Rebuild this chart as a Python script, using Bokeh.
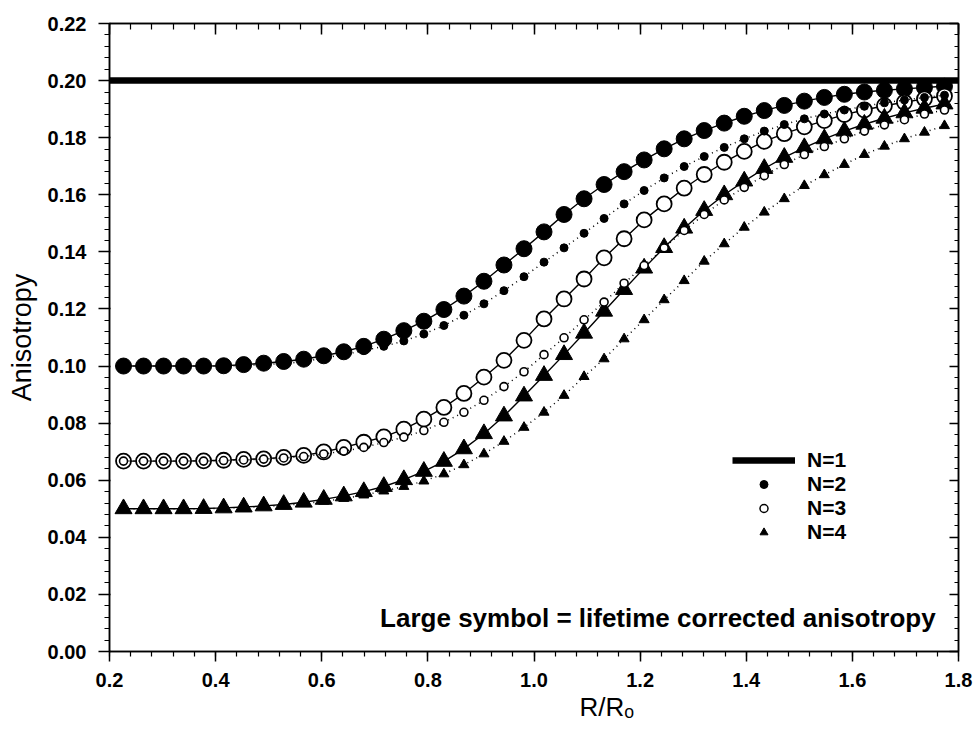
import math

from bokeh.embed import file_html
from bokeh.models import (ColumnDataSource, CustomLabelingPolicy, FixedTicker, Label, Legend,
                          LegendItem, LinearAxis, PrintfTickFormatter, Range1d, Title)
from bokeh.plotting import figure
from bokeh.resources import INLINE

# ---- data -----------------------------------------------------------------
# donor-donor distances (Angstrom) and the Forster distance used to scale them
distances_A = [12, 14, 16, 18, 20, 22, 24, 26, 28, 30, 32, 34, 36, 38,
               40, 42, 44, 46, 48, 50, 52, 54, 56, 58, 60, 62, 64, 66,
               68, 70, 72, 74, 76, 78, 80, 82, 84, 86, 88, 90, 92, 94]
R0_A = 53.0
r_over_r0 = [d / R0_A for d in distances_A]

# N=1: monomer, no homo-transfer
n1_x = [0.2, 1.8]
n1_r = [0.200, 0.200]

# N=2 (dimer)
n2_corrected = [0.1000, 0.1000, 0.1000, 0.1000, 0.1000, 0.1001, 0.1005, 0.1010, 0.1016, 0.1024,
                0.1036, 0.1050, 0.1069, 0.1094, 0.1124, 0.1157, 0.1198, 0.1245, 0.1297, 0.1354,
                0.1411, 0.1470, 0.1531, 0.1586, 0.1636, 0.1681, 0.1722, 0.1761, 0.1796, 0.1825,
                0.1851, 0.1875, 0.1895, 0.1913, 0.1928, 0.1941, 0.1952, 0.1960, 0.1966, 0.1971,
                0.1976, 0.1980]
n2_plain = [0.1000, 0.1000, 0.1000, 0.1000, 0.1000, 0.1000, 0.1002, 0.1005, 0.1009, 0.1015,
            0.1028, 0.1040, 0.1054, 0.1069, 0.1088, 0.1112, 0.1142, 0.1178, 0.1218, 0.1264,
            0.1313, 0.1364, 0.1414, 0.1465, 0.1517, 0.1568, 0.1615, 0.1659, 0.1699, 0.1734,
            0.1766, 0.1796, 0.1823, 0.1846, 0.1866, 0.1883, 0.1897, 0.1910, 0.1922, 0.1932,
            0.1941, 0.1949]

# N=3 (trimer)
n3_corrected = [0.0667, 0.0667, 0.0667, 0.0667, 0.0668, 0.0670, 0.0673, 0.0675, 0.0680, 0.0687,
                0.0699, 0.0715, 0.0733, 0.0752, 0.0779, 0.0814, 0.0855, 0.0904, 0.0961, 0.1020,
                0.1090, 0.1165, 0.1235, 0.1305, 0.1379, 0.1446, 0.1512, 0.1568, 0.1623, 0.1671,
                0.1714, 0.1752, 0.1787, 0.1814, 0.1838, 0.1860, 0.1881, 0.1897, 0.1912, 0.1924,
                0.1936, 0.1946]
n3_plain = [0.0667, 0.0667, 0.0667, 0.0667, 0.0667, 0.0669, 0.0671, 0.0674, 0.0678, 0.0683,
            0.0692, 0.0702, 0.0715, 0.0732, 0.0751, 0.0774, 0.0803, 0.0838, 0.0880, 0.0928,
            0.0980, 0.1040, 0.1099, 0.1162, 0.1224, 0.1290, 0.1352, 0.1414, 0.1475, 0.1531,
            0.1582, 0.1626, 0.1667, 0.1706, 0.1741, 0.1769, 0.1796, 0.1823, 0.1845, 0.1863,
            0.1883, 0.1897]

# N=4 (tetramer)
n4_corrected = [0.0500, 0.0500, 0.0500, 0.0500, 0.0501, 0.0503, 0.0506, 0.0510, 0.0515, 0.0523,
                0.0533, 0.0545, 0.0560, 0.0578, 0.0602, 0.0631, 0.0666, 0.0710, 0.0763, 0.0825,
                0.0895, 0.0967, 0.1040, 0.1115, 0.1192, 0.1268, 0.1343, 0.1415, 0.1483, 0.1545,
                0.1600, 0.1648, 0.1692, 0.1731, 0.1765, 0.1796, 0.1823, 0.1847, 0.1868, 0.1887,
                0.1903, 0.1918]
n4_plain = [0.0500, 0.0500, 0.0500, 0.0500, 0.0500, 0.0502, 0.0505, 0.0508, 0.0512, 0.0518,
            0.0526, 0.0536, 0.0548, 0.0562, 0.0578, 0.0597, 0.0622, 0.0654, 0.0692, 0.0736,
            0.0785, 0.0838, 0.0897, 0.0963, 0.1025, 0.1095, 0.1162, 0.1232, 0.1299, 0.1367,
            0.1428, 0.1486, 0.1539, 0.1586, 0.1632, 0.1670, 0.1706, 0.1741, 0.1770, 0.1796,
            0.1819, 0.1842]

x_ticks = [0.2, 0.4, 0.6, 0.8, 1.0, 1.2, 1.4, 1.6, 1.8]
y_ticks = [0.00, 0.02, 0.04, 0.06, 0.08, 0.10, 0.12, 0.14, 0.16, 0.18, 0.20, 0.22]
x_minor = [round(0.2 + 0.04 * k, 3) for k in range(41)]
y_minor = [round(0.004 * k, 4) for k in range(56)]

legend_labels = ["N=1", "N=2", "N=3", "N=4"]

FONT = "Liberation Sans"

# ---- figure ---------------------------------------------------------------
p = figure(width=976, height=734, output_backend="svg", toolbar_location=None,
           x_range=Range1d(0.2, 1.8), y_range=Range1d(0.0, 0.22),
           min_border_left=109, min_border_right=18, min_border_top=23,
           min_border_bottom=83, background_fill_color="white",
           border_fill_color="white")
p.xgrid.visible = False
p.ygrid.visible = False
p.outline_line_color = "black"
p.outline_line_width = 1.5

xt = FixedTicker(ticks=x_ticks, minor_ticks=x_minor)
yt = FixedTicker(ticks=y_ticks, minor_ticks=y_minor)

# mirror axes carry ticks only
no_labels = CustomLabelingPolicy(
    code="for (let i = 0; i < indices.size; i++) { indices.unset(i) } return indices")


def style_axis(ax, ticker, fmt, tick_out, tick_in, minor_out, minor_in, labels=True):
    ax.ticker = ticker
    ax.formatter = PrintfTickFormatter(format=fmt)
    ax.axis_line_color = "black"
    ax.axis_line_width = 1.5
    ax.major_tick_line_color = "black"
    ax.major_tick_line_width = 1.5
    ax.minor_tick_line_color = "black"
    ax.minor_tick_line_width = 1.2
    ax.major_tick_out = tick_out
    ax.major_tick_in = tick_in
    ax.minor_tick_out = minor_out
    ax.minor_tick_in = minor_in
    if labels:
        ax.major_label_text_font = FONT
        ax.major_label_text_font_style = "bold"
        ax.major_label_text_font_size = "20px"
        ax.major_label_text_color = "black"
    else:
        ax.major_label_policy = no_labels
        ax.major_label_text_font_size = "0px"
        ax.major_label_standoff = 0


xa = p.xaxis[0]
ya = p.yaxis[0]
style_axis(xa, xt, "%.1f", 10, 0, 5, 0)
style_axis(ya, yt, "%.2f", 11, 1, 5, 0)
xa.major_label_standoff = 11
ya.major_label_standoff = 12

ya.axis_label = "Anisotropy"
ya.axis_label_text_font = FONT
ya.axis_label_text_font_style = "normal"
ya.axis_label_text_font_size = "27px"
ya.axis_label_text_color = "black"
ya.axis_label_standoff = 8

top = LinearAxis()
style_axis(top, xt, "%.1f", 0, 11, 0, 6, labels=False)
p.add_layout(top, "above")
right = LinearAxis()
style_axis(right, yt, "%.2f", 0, 9, 0, 4, labels=False)
p.add_layout(right, "right")

# x-axis title (R over the Forster distance), offset to the right of centre
p.add_layout(Title(text="R/R\u2092", align="left", offset=470, standoff=0,
                   text_font=FONT, text_font_style="normal", text_font_size="26px",
                   text_color="black"), "below")

# ---- series ---------------------------------------------------------------
src = ColumnDataSource(dict(
    x=r_over_r0,
    n2c=n2_corrected, n2=n2_plain,
    n3c=n3_corrected, n3=n3_plain,
    n4c=n4_corrected, n4=n4_plain,
))

n1_line = p.line(n1_x, n1_r, line_color="black", line_width=6.5)

# lifetime-corrected anisotropy: large symbols joined by solid lines
p.line("x", "n2c", source=src, line_color="black", line_width=1.4)
p.scatter("x", "n2c", source=src, marker="circle", size=16,
          fill_color="black", line_color="black", line_width=1)
p.line("x", "n3c", source=src, line_color="black", line_width=1.4)
p.scatter("x", "n3c", source=src, marker="circle", size=15,
          fill_color="white", line_color="black", line_width=1.8)
p.line("x", "n4c", source=src, line_color="black", line_width=1.4)
p.scatter("x", "n4c", source=src, marker="triangle", size=17,
          fill_color="black", line_color="black", line_width=1)

# uncorrected anisotropy: small symbols joined by dotted lines
p.line("x", "n2", source=src, line_color="black", line_width=1.5, line_dash="1 4")
p.scatter("x", "n2", source=src, marker="circle", size=8,
          fill_color="black", line_color="black", line_width=1)
p.line("x", "n3", source=src, line_color="black", line_width=1.5, line_dash="1 4")
p.scatter("x", "n3", source=src, marker="circle", size=8,
          fill_color="white", line_color="black", line_width=1.6)
p.line("x", "n4", source=src, line_color="black", line_width=1.5, line_dash="1 4")
p.scatter("x", "n4", source=src, marker="triangle", size=10,
          fill_color="black", line_color="black", line_width=1)

# legend swatches (not plotted, only shown in the key)
nan = [math.nan]
key_n2 = p.scatter(nan, nan, marker="circle", size=11, fill_color="black", line_color="black")
key_n3 = p.scatter(nan, nan, marker="circle", size=11, fill_color="white",
                   line_color="black", line_width=1.5)
key_n4 = p.scatter(nan, nan, marker="triangle", size=14, fill_color="black", line_color="black")

# one single-row key per entry so the rows can sit tightly stacked
key_renderers = [n1_line, key_n2, key_n3, key_n4]
for row, (label, rend) in enumerate(zip(legend_labels, key_renderers)):
    p.add_layout(Legend(
        items=[LegendItem(label=label, renderers=[rend])],
        location=(623, 179 - 24 * row), orientation="vertical",
        glyph_width=63, glyph_height=20, label_height=20, label_standoff=12,
        spacing=0, padding=0, margin=0,
        border_line_color=None, background_fill_alpha=0,
        label_text_font=FONT, label_text_font_style="bold",
        label_text_font_size="21px", label_text_color="black",
    ))

p.add_layout(Label(x=1.757, y=0.0119, text="Large symbol = lifetime corrected anisotropy",
                   text_align="right", text_baseline="middle", text_font=FONT,
                   text_font_style="bold", text_font_size="26px", text_color="black"))

open("out.html", "w").write(file_html(p, INLINE))
